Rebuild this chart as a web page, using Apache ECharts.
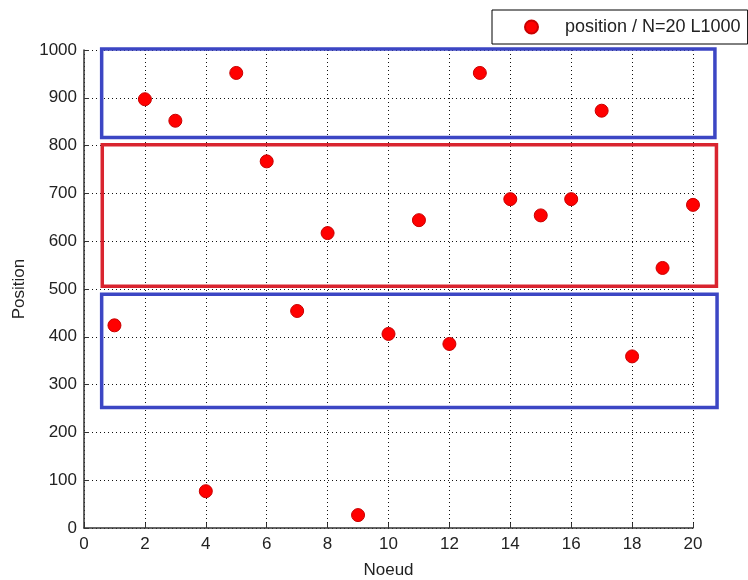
<!DOCTYPE html>
<html>
<head>
<meta charset="utf-8">
<script src="https://cdn.jsdelivr.net/npm/echarts@6/dist/echarts.min.js"></script>
<style>html,body{margin:0;padding:0;background:#fff}#c{width:748px;height:580px}</style>
</head>
<body>
<div id="c"></div>
<script>
// Data
var nodes = [1,2,3,4,5,6,7,8,9,10,11,12,13,14,15,16,17,18,19,20];
var positions = [424,897,852,77,952,767,454,617,27,406,644,385,952,688,654,688,873,359,544,676];
var seriesName = 'position / N=20 L1000';
var xTicks = [0,2,4,6,8,10,12,14,16,18,20];
var yTicks = [0,100,200,300,400,500,600,700,800,900,1000];
// Highlighted ranges: [xFrom, yFrom, xTo, yTo]
var boxTop = [0.58, 817, 20.72, 1002];
var boxMid = [0.6, 506, 20.77, 802];
var boxLow = [0.58, 252, 20.79, 489];
var boxColors = ['#3c46c4', '#d9242f', '#3c46c4'];

var chart = echarts.init(document.getElementById('c'));
var font = 'Liberation Sans, Arial, sans-serif';
var dotted = {type: [1, 3], color: '#111', width: 1};
chart.setOption({
  animation: false,
  backgroundColor: '#fff',
  grid: {left: 84, right: 55, top: 50, bottom: 52, containLabel: false, outerBoundsMode: 'none'},
  legend: {
    data: [{name: seriesName, icon: 'circle'}],
    left: 492, top: 10,
    borderColor: '#000', borderWidth: 1,
    padding: [8, 7, 8, 32],
    itemWidth: 13, itemHeight: 13,
    textStyle: {fontFamily: font, fontSize: 18, color: '#222', padding: [0, 0, 0, 22]}
  },
  xAxis: {
    type: 'value', min: xTicks[0], max: xTicks[xTicks.length - 1], interval: 2,
    name: 'Noeud', nameLocation: 'middle', nameGap: 34,
    nameTextStyle: {fontFamily: font, fontSize: 17, color: '#222'},
    axisLine: {lineStyle: {color: '#333', width: 1.5}},
    axisTick: {inside: true, length: 5, lineStyle: {color: '#333'}},
    axisLabel: {fontFamily: font, fontSize: 17, color: '#222', margin: 8},
    splitLine: {show: true, lineStyle: dotted}
  },
  yAxis: {
    type: 'value', min: yTicks[0], max: yTicks[yTicks.length - 1], interval: 100,
    name: 'Position', nameLocation: 'middle', nameGap: 56,
    nameTextStyle: {fontFamily: font, fontSize: 17, color: '#222'},
    axisLine: {show: true, lineStyle: {color: '#333', width: 1.5}},
    axisTick: {show: true, inside: true, length: 5, lineStyle: {color: '#333'}},
    axisLabel: {fontFamily: font, fontSize: 17, color: '#222', margin: 7,
      formatter: function (v) { return String(v); }},
    splitLine: {show: true, lineStyle: dotted}
  },
  series: [
    {
      type: 'custom',
      clip: false,
      silent: true,
      z: 1,
      data: [boxTop, boxMid, boxLow],
      encode: {x: [0, 2], y: [1, 3]},
      renderItem: function (params, api) {
        var p0 = api.coord([api.value(0), api.value(3)]);
        var p1 = api.coord([api.value(2), api.value(1)]);
        return {
          type: 'rect',
          shape: {x: p0[0], y: p0[1], width: p1[0] - p0[0], height: p1[1] - p0[1]},
          style: {fill: 'none', stroke: boxColors[params.dataIndex], lineWidth: 3.5}
        };
      }
    },
    {
      name: seriesName,
      type: 'scatter',
      z: 3,
      symbol: 'circle',
      symbolSize: 13,
      itemStyle: {color: '#ff0000', borderColor: '#c80000', borderWidth: 1, opacity: 1},
      data: nodes.map(function (n, i) { return [n, positions[i]]; })
    }
  ]
});
</script>
</body>
</html>
